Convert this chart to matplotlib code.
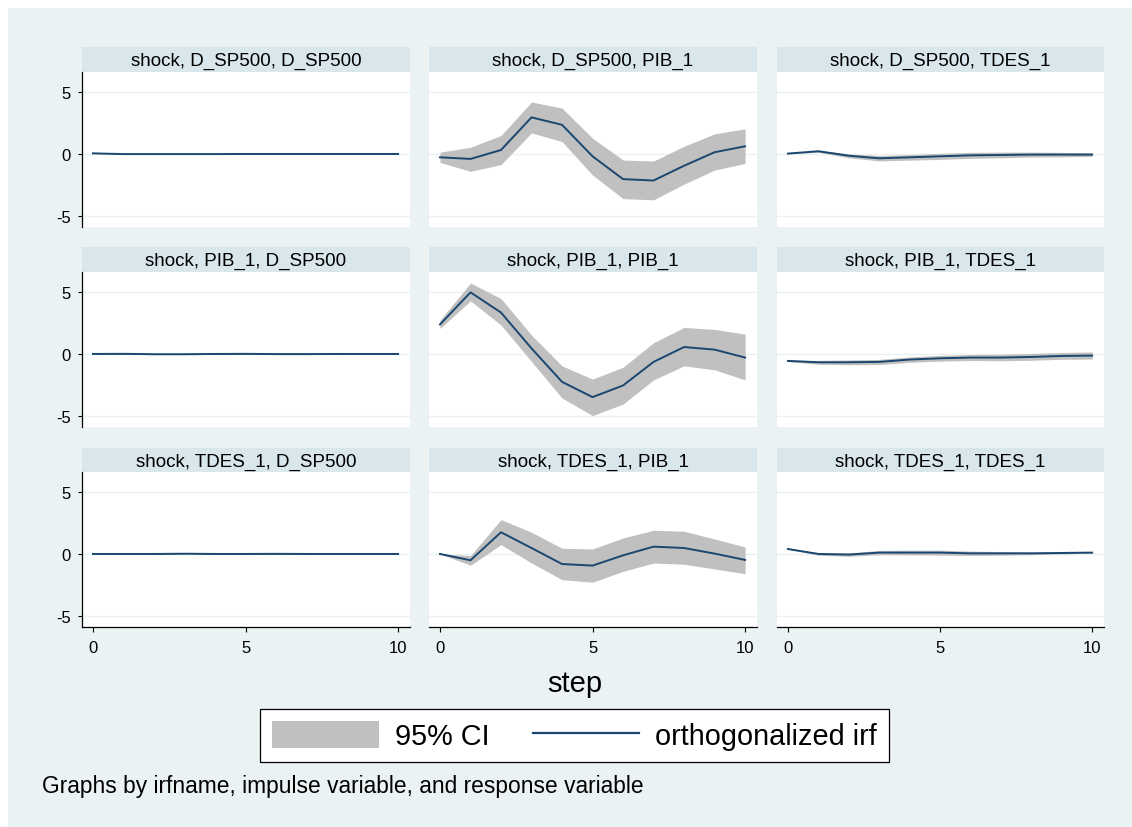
import matplotlib
matplotlib.use("Agg")
import matplotlib.pyplot as plt
from matplotlib.patches import Rectangle, Patch
from matplotlib.lines import Line2D

plt.rcParams['font.family'] = ['Liberation Sans', 'DejaVu Sans']
plt.rcParams['axes.unicode_minus'] = False

steps = list(range(11))
impulses = ["D_SP500", "PIB_1", "TDES_1"]
responses = ["D_SP500", "PIB_1", "TDES_1"]

# irf[impulse][response]
irf = {
    "D_SP500": {
        "D_SP500": [0.05, -0.01, -0.01, -0.01, -0.01, 0.0, 0.0, 0.0, 0.0, 0.0, 0.0],
        "PIB_1":   [-0.27, -0.40, 0.32, 2.95, 2.35, -0.19, -2.03, -2.14, -0.95, 0.14, 0.62],
        "TDES_1":  [0.03, 0.22, -0.14, -0.35, -0.27, -0.19, -0.11, -0.08, -0.05, -0.05, -0.05],
    },
    "PIB_1": {
        "D_SP500": [0.0, 0.01, -0.02, -0.02, 0.0, 0.01, -0.01, -0.01, 0.0, 0.0, 0.0],
        "PIB_1":   [2.38, 4.97, 3.34, 0.45, -2.25, -3.48, -2.54, -0.64, 0.56, 0.35, -0.29],
        "TDES_1":  [-0.56, -0.67, -0.67, -0.64, -0.45, -0.35, -0.29, -0.29, -0.24, -0.16, -0.13],
    },
    "TDES_1": {
        "D_SP500": [0.0, 0.0, 0.0, 0.02, 0.0, 0.0, 0.01, 0.0, 0.0, 0.0, 0.0],
        "PIB_1":   [0.0, -0.51, 1.75, 0.48, -0.81, -0.94, -0.11, 0.59, 0.48, 0.03, -0.48],
        "TDES_1":  [0.40, 0.00, -0.05, 0.11, 0.11, 0.11, 0.05, 0.05, 0.05, 0.08, 0.11],
    },
}
upper = {
    "D_SP500": {
        "D_SP500": [0.07, 0.02, 0.02, 0.02, 0.02, 0.03, 0.03, 0.03, 0.03, 0.03, 0.03],
        "PIB_1":   [0.14, 0.54, 1.49, 4.19, 3.70, 1.27, -0.49, -0.57, 0.62, 1.62, 2.03],
        "TDES_1":  [0.05, 0.30, 0.00, -0.12, -0.05, 0.05, 0.13, 0.15, 0.15, 0.13, 0.10],
    },
    "PIB_1": {
        "D_SP500": [0.02, 0.04, 0.02, 0.02, 0.04, 0.05, 0.03, 0.03, 0.04, 0.04, 0.04],
        "PIB_1":   [2.73, 5.72, 4.47, 1.52, -0.96, -2.03, -1.07, 0.91, 2.14, 1.98, 1.60],
        "TDES_1":  [-0.50, -0.52, -0.48, -0.44, -0.24, -0.12, -0.04, -0.02, 0.04, 0.12, 0.16],
    },
    "TDES_1": {
        "D_SP500": [0.02, 0.03, 0.04, 0.05, 0.04, 0.04, 0.05, 0.04, 0.04, 0.04, 0.04],
        "PIB_1":   [0.0, -0.13, 2.77, 1.75, 0.46, 0.40, 1.29, 1.91, 1.83, 1.21, 0.56],
        "TDES_1":  [0.42, 0.10, 0.09, 0.28, 0.31, 0.31, 0.23, 0.19, 0.16, 0.16, 0.16],
    },
}
lower = {
    "D_SP500": {
        "D_SP500": [0.03, -0.04, -0.04, -0.04, -0.04, -0.03, -0.03, -0.03, -0.03, -0.03, -0.03],
        "PIB_1":   [-0.68, -1.40, -0.86, 1.70, 1.00, -1.70, -3.60, -3.70, -2.43, -1.30, -0.76],
        "TDES_1":  [0.01, 0.13, -0.31, -0.56, -0.50, -0.44, -0.35, -0.31, -0.25, -0.23, -0.20],
    },
    "PIB_1": {
        "D_SP500": [-0.02, -0.02, -0.06, -0.06, -0.04, -0.03, -0.05, -0.05, -0.04, -0.04, -0.04],
        "PIB_1":   [2.06, 4.28, 2.33, -0.61, -3.56, -4.97, -4.04, -2.09, -0.96, -1.28, -2.09],
        "TDES_1":  [-0.62, -0.83, -0.87, -0.85, -0.67, -0.58, -0.53, -0.55, -0.51, -0.43, -0.41],
    },
    "TDES_1": {
        "D_SP500": [-0.02, -0.03, -0.04, -0.01, -0.04, -0.04, -0.03, -0.04, -0.04, -0.04, -0.04],
        "PIB_1":   [0.0, -0.91, 0.75, -0.73, -2.07, -2.28, -1.40, -0.73, -0.83, -1.21, -1.59],
        "TDES_1":  [0.38, -0.10, -0.19, -0.06, -0.08, -0.09, -0.13, -0.10, -0.06, 0.00, 0.06],
    },
}

yticks = [-5, 0, 5]
xticks = [0, 5, 10]
legend_labels = ["95% CI", "orthogonalized irf"]
xlabel = "step"
note = "Graphs by irfname, impulse variable, and response variable"

BG = "#EAF2F3"
STRIP = "#D9E6EB"
LINE = "#1A476F"
CI = "#C0C0C0"

W, H = 1132, 828
fig = plt.figure(figsize=(W / 100, H / 100), dpi=100, facecolor="white")
bg = Rectangle((8 / W, 0), 1 - 8 / W, 1 - 9 / H, transform=fig.transFigure,
               facecolor=BG, edgecolor="none", zorder=-10)
fig.add_artist(bg)

def fx(x):
    return x / W

def fy(y):
    return 1 - y / H

cols = [(82, 410), (429, 757), (777, 1104)]
rows = [(48, 73, 228), (248, 273, 428), (449, 473, 628)]

for i, imp in enumerate(impulses):
    st, pt, pb = rows[i]
    for j, resp in enumerate(responses):
        x0, x1 = cols[j]
        # strip
        sax = fig.add_axes([fx(x0), fy(pt), fx(x1) - fx(x0), fy(st) - fy(pt)])
        sax.set_zorder(1)
        sax.set_facecolor(STRIP)
        sax.set_xticks([]); sax.set_yticks([])
        for s in sax.spines.values():
            s.set_visible(False)
        sax.text(0.5, 0.45, f"shock, {imp}, {resp}", ha="center", va="center",
                 fontsize=13.5, transform=sax.transAxes)
        ax = fig.add_axes([fx(x0), fy(pb), fx(x1) - fx(x0), fy(pt) - fy(pb)])
        ax.set_zorder(1)
        ax.set_facecolor("white")
        ax.fill_between(steps, lower[imp][resp], upper[imp][resp], color=CI, lw=0, zorder=2)
        ax.plot(steps, irf[imp][resp], color=LINE, lw=1.4, zorder=3)
        ax.set_xlim(-0.36, 10.39)
        ax.set_ylim(-5.89, 6.61)
        ax.set_yticks(yticks)
        ax.set_xticks(xticks)
        for yv in yticks:
            ax.axhline(yv, color=BG, lw=1.0, zorder=1)
        for s in ax.spines.values():
            s.set_visible(False)
        if j == 0:
            ax.spines['left'].set_visible(True)
            ax.spines['left'].set_linewidth(0.9)
            ax.tick_params(axis='y', length=3, width=0.8, pad=5, labelsize=12)
        else:
            ax.tick_params(axis='y', left=False, labelleft=False)
        if i == 2:
            ax.spines['bottom'].set_visible(True)
            ax.spines['bottom'].set_linewidth(0.9)
            ax.tick_params(axis='x', length=3.5, width=0.8, pad=6, labelsize=12)
        else:
            ax.tick_params(axis='x', bottom=False, labelbottom=False)

fig.text(fx(575), fy(684), xlabel, ha="center", va="center", fontsize=21)

handles = [Patch(facecolor=CI, edgecolor="none"), Line2D([0], [0], color=LINE, lw=1.6)]
leg = fig.legend(handles, legend_labels, loc="center", bbox_to_anchor=(fx(574.5), fy(736.5)),
                 ncol=2, fontsize=20.8, frameon=True, fancybox=False, shadow=False,
                 edgecolor="black", facecolor="white", framealpha=1,
                 handlelength=3.7, handleheight=1.05, handletextpad=0.55,
                 columnspacing=1.5, borderpad=0.4)
leg.get_frame().set_linewidth(0.9)

fig.text(fx(42), fy(787), note, ha="left", va="center", fontsize=16.4)

fig.savefig("out.png", dpi=100, facecolor="white")
